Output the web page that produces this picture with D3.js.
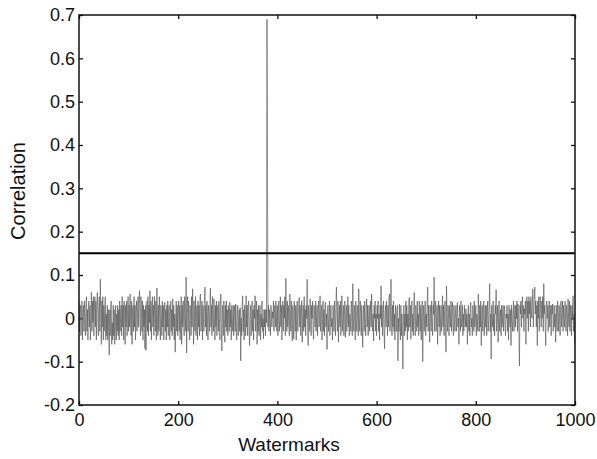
<!DOCTYPE html>
<html lang="en">
<head>
    <meta charset="UTF-8">
    <title>Correlation</title>
    <style>
        body { margin: 0; background: #fff; }
        text { font-family: "Liberation Sans", Arial, sans-serif; fill: #111; }
        .axis path { display: none; }
        .axis line { stroke: #111; stroke-width: 1.3; }
    </style>
</head>
<body>
<script src="https://d3js.org/d3.v7.min.js"></script>
<script>
    // detector response for each of the 1000 watermarks
    const correlation = [
        0.04, -0.03, 0.02, 0.03, -0.04, 0.01, 0.04, -0.05, 0.02, 0.03, -0.03, 0.04, 0.00, -0.04, 0.03, 0.05, -0.03, 0.02, -0.05, 0.03,
        0.04, -0.02, 0.03, -0.05, 0.01, 0.06, -0.03, 0.04, -0.01, 0.05, -0.04, 0.02, 0.05, -0.02, 0.04, -0.05, 0.03, 0.06, 0.01, -0.04,
        0.03, 0.05, -0.03, 0.09, 0.01, -0.06, 0.04, -0.02, 0.05, -0.05, 0.03, -0.03, 0.02, 0.05, -0.05, 0.01, -0.04, 0.03, -0.05, 0.02,
        -0.03, -0.085, 0.02, -0.04, 0.03, 0.04, -0.06, -0.01, -0.05, 0.03, -0.04, 0.02, -0.06, -0.02, 0.03, -0.05, 0.01, -0.03, 0.03, -0.04,
        0.02, -0.05, 0.04, -0.03, 0.01, 0.03, -0.04, 0.05, -0.02, 0.03, -0.05, 0.04, 0.00, -0.06, 0.03, -0.02, 0.04, -0.04, 0.02, 0.05,
        -0.03, 0.03, -0.02, 0.056, 0.00, -0.04, 0.04, -0.06, 0.02, 0.03, -0.03, 0.05, -0.02, 0.03, -0.05, 0.01, 0.04, -0.03, 0.01, 0.05,
        -0.02, 0.04, 0.064, -0.01, -0.04, 0.05, 0.01, -0.03, 0.04, -0.05, 0.03, -0.02, 0.02, -0.07, 0.03, -0.074, 0.01, 0.04, -0.03, 0.05,
        -0.04, 0.03, -0.01, 0.064, -0.03, 0.04, -0.05, 0.02, 0.05, -0.02, 0.03, -0.04, 0.05, 0.00, -0.03, 0.04, -0.05, 0.07, 0.01, -0.04,
        0.03, -0.03, 0.05, 0.00, -0.05, 0.03, 0.01, -0.04, 0.04, -0.02, 0.03, -0.05, 0.01, 0.037, -0.03, 0.02, -0.05, 0.03, -0.02, 0.04,
        -0.04, 0.02, 0.03, -0.05, 0.00, 0.04, -0.03, 0.02, -0.04, 0.045, -0.02, 0.03, -0.05, 0.01, -0.078, 0.00, 0.04, -0.03, 0.03, -0.04,
        0.02, 0.04, -0.03, 0.03, -0.05, 0.01, 0.05, -0.06, 0.03, -0.02, 0.04, 0.00, -0.04, 0.05, 0.01, -0.03, 0.095, -0.08, 0.03, 0.05,
        -0.03, 0.04, 0.00, -0.05, 0.03, 0.01, -0.04, 0.05, -0.02, 0.068, 0.02, -0.06, 0.04, -0.01, -0.03, 0.05, -0.04, 0.02, 0.03, -0.05,
        0.04, -0.02, 0.03, -0.04, 0.05, 0.056, -0.03, 0.01, 0.04, -0.05, 0.03, 0.00, -0.03, 0.05, 0.072, -0.02, 0.03, -0.04, 0.04, 0.00,
        -0.05, 0.03, 0.01, -0.03, 0.04, 0.07, -0.02, 0.03, -0.04, 0.05, 0.00, -0.03, 0.045, 0.01, -0.05, 0.03, -0.02, 0.04, -0.04, 0.02,
        0.03, -0.03, 0.04, 0.00, -0.05, 0.03, 0.056, -0.02, -0.075, 0.03, 0.01, -0.04, 0.04, 0.00, -0.055, 0.03, -0.02, 0.04, -0.03, 0.02,
        -0.04, 0.03, 0.00, -0.03, 0.037, -0.02, 0.02, -0.05, 0.03, 0.00, -0.03, 0.03, -0.04, 0.01, 0.03, -0.03, 0.033, -0.02, -0.05, 0.01,
        0.03, -0.04, 0.00, 0.02, -0.03, 0.025, -0.098, 0.00, -0.04, 0.03, 0.052, -0.03, 0.02, -0.05, 0.03, 0.00, -0.04, 0.052, -0.02, 0.03,
        -0.04, 0.02, 0.04, -0.03, -0.063, 0.01, 0.03, -0.04, 0.00, 0.04, -0.03, 0.02, -0.05, 0.03, 0.00, 0.052, -0.03, 0.01, 0.04, -0.06,
        0.02, -0.03, 0.03, -0.04, 0.00, 0.03, -0.05, 0.01, -0.02, 0.04, -0.03, 0.00, -0.047, 0.02, -0.02, 0.02, -0.04, 0.02, -0.01, 0.69,
        0.38, -0.02, 0.03, -0.03, 0.02, 0.00, -0.04, 0.03, 0.01, -0.02, 0.015, 0.00, 0.04, -0.03, 0.02, 0.03, -0.02, 0.04, 0.00, -0.03,
        0.03, -0.04, 0.02, 0.04, -0.03, 0.00, 0.05, -0.02, 0.03, -0.05, 0.01, 0.04, -0.03, 0.03, 0.00, 0.05, -0.04, 0.092, 0.01, -0.03,
        0.04, -0.02, 0.03, 0.00, -0.04, 0.056, 0.01, -0.03, 0.04, -0.02, -0.052, 0.03, 0.00, -0.048, 0.04, 0.01, -0.03, 0.03, -0.05, 0.02,
        0.04, -0.03, 0.00, 0.03, 0.048, -0.02, 0.03, -0.04, 0.01, 0.04, -0.055, 0.00, 0.03, -0.03, 0.05, -0.02, 0.02, -0.04, 0.03, 0.00,
        0.09, -0.02, -0.063, 0.03, 0.00, -0.03, 0.045, 0.01, -0.04, 0.03, 0.00, 0.04, -0.03, -0.048, 0.03, 0.01, -0.02, 0.04, -0.03, 0.00,
        0.03, -0.04, 0.02, 0.04, -0.02, 0.00, 0.052, -0.03, 0.01, 0.03, -0.05, 0.00, 0.04, -0.03, 0.02, -0.04, 0.03, 0.037, -0.02, 0.01,
        -0.072, 0.02, 0.03, -0.03, 0.00, 0.04, -0.04, 0.01, 0.03, -0.02, 0.00, -0.05, 0.03, 0.01, -0.03, 0.04, 0.00, -0.04, 0.03, 0.072,
        0.01, -0.03, 0.04, -0.055, 0.00, 0.03, -0.02, 0.04, -0.04, 0.01, 0.052, -0.03, 0.00, 0.03, -0.04, 0.01, 0.04, -0.044, 0.01, 0.03,
        -0.03, 0.00, 0.05, -0.02, 0.03, -0.04, 0.01, 0.00, -0.03, 0.04, 0.01, -0.04, 0.08, 0.00, -0.03, 0.03, 0.01, -0.05, 0.04, 0.00,
        -0.03, 0.03, 0.01, -0.04, 0.068, 0.00, -0.03, 0.04, 0.01, -0.04, 0.03, -0.02, -0.067, 0.01, 0.03, -0.03, 0.04, 0.00, -0.04, 0.02,
        0.045, -0.02, 0.03, -0.04, 0.00, 0.03, -0.03, 0.01, 0.04, -0.02, 0.056, 0.00, -0.03, 0.01, -0.052, 0.03, 0.00, 0.04, -0.03, 0.01,
        -0.04, 0.03, 0.00, 0.04, -0.03, 0.01, -0.05, 0.03, 0.00, 0.075, -0.02, 0.03, -0.04, 0.01, 0.04, -0.03, -0.07, 0.01, 0.03, -0.02,
        0.04, 0.00, -0.04, 0.03, -0.02, 0.05, 0.056, -0.03, 0.01, 0.09, 0.00, -0.04, 0.03, -0.02, 0.04, -0.03, 0.01, -0.05, 0.03, 0.00,
        -0.03, 0.02, 0.03, -0.098, 0.00, -0.03, 0.033, -0.02, -0.05, 0.03, -0.04, 0.01, -0.03, -0.117, 0.00, 0.03, -0.04, 0.01, -0.03, 0.04,
        -0.02, 0.03, -0.05, 0.01, -0.03, 0.04, 0.048, -0.02, 0.03, -0.048, 0.00, 0.04, -0.03, 0.01, -0.04, 0.03, 0.06, -0.02, -0.04, 0.03,
        0.00, -0.03, 0.04, -0.02, 0.01, -0.04, 0.04, 0.00, -0.03, 0.03, -0.05, 0.01, 0.04, -0.1, 0.00, 0.03, -0.03, 0.01, 0.04, -0.04,
        0.01, -0.02, 0.04, 0.072, -0.03, 0.03, 0.00, -0.055, 0.03, 0.01, -0.03, 0.04, 0.00, -0.04, 0.03, 0.01, 0.095, -0.03, 0.01, 0.04,
        -0.03, 0.00, 0.03, -0.06, 0.01, 0.04, -0.02, 0.03, -0.04, 0.00, 0.03, -0.03, 0.01, 0.052, -0.02, 0.03, -0.04, 0.01, 0.04, -0.03,
        -0.078, 0.075, 0.00, -0.03, 0.03, 0.01, -0.04, 0.03, 0.00, -0.02, 0.04, -0.03, 0.01, 0.037, -0.02, -0.04, 0.03, 0.00, -0.03, 0.01,
        0.03, -0.03, 0.01, 0.037, -0.02, 0.00, -0.06, 0.03, 0.01, -0.03, 0.04, -0.02, 0.00, 0.03, -0.04, 0.01, -0.03, 0.03, 0.00, -0.02,
        0.022, -0.02, 0.01, -0.06, 0.00, 0.03, -0.03, 0.01, -0.04, 0.03, 0.037, -0.02, 0.00, -0.04, 0.03, 0.01, -0.03, 0.04, -0.02, 0.00,
        0.03, -0.04, 0.01, 0.00, -0.03, 0.056, 0.01, -0.03, 0.03, -0.02, 0.04, -0.063, 0.00, 0.03, -0.03, 0.01, 0.04, -0.04, 0.00, 0.03,
        -0.02, 0.03, -0.04, 0.01, 0.04, -0.03, 0.00, 0.03, 0.08, -0.03, 0.01, -0.094, 0.03, 0.00, -0.02, 0.04, -0.03, 0.01, -0.04, 0.03,
        0.01, 0.066, -0.03, 0.00, 0.03, -0.055, 0.01, 0.04, -0.03, 0.00, 0.02, -0.04, 0.03, -0.02, 0.00, 0.03, -0.03, 0.01, 0.029, -0.02,
        -0.04, 0.01, 0.00, 0.03, -0.03, 0.01, -0.05, 0.03, 0.00, -0.02, 0.02, -0.063, 0.03, 0.00, -0.03, 0.01, 0.04, -0.03, 0.00, 0.03,
        -0.02, 0.03, 0.00, 0.04, -0.03, 0.033, 0.01, -0.03, -0.11, 0.03, 0.01, 0.04, -0.02, 0.03, 0.05, 0.00, 0.03, -0.03, 0.022, 0.01,
        0.04, -0.06, 0.03, 0.05, 0.00, 0.04, -0.03, 0.05, 0.01, 0.04, -0.02, 0.05, 0.02, 0.00, 0.04, 0.068, -0.02, 0.03, 0.05, 0.072,
        0.01, 0.04, -0.02, 0.03, -0.063, 0.04, 0.00, 0.05, -0.03, 0.03, 0.05, 0.01, -0.02, 0.04, 0.00, 0.05, -0.03, 0.08, 0.01, 0.03,
        -0.02, -0.063, 0.03, 0.04, 0.00, 0.03, -0.03, 0.01, 0.04, -0.02, 0.03, 0.00, -0.04, 0.03, 0.01, 0.033, -0.03, 0.00, 0.03, -0.02,
        0.01, -0.055, 0.03, 0.00, -0.03, 0.04, 0.01, -0.03, 0.03, 0.00, -0.04, 0.03, 0.04, -0.02, 0.01, 0.04, -0.03, 0.03, 0.00, -0.02,
        0.04, 0.00, -0.03, 0.03, 0.01, -0.04, 0.045, 0.00, -0.02, 0.04, -0.03, 0.03, 0.01, -0.04, 0.03, 0.00, 0.052, -0.03, 0.01, -0.06
    ];
    const threshold = [0.15];
    const xTicks = [0, 200, 400, 600, 800, 1000];
    const yTicks = [-0.2, -0.1, 0, 0.1, 0.2, 0.3, 0.4, 0.5, 0.6, 0.7];

    const width = 597;
    const height = 459;
    const margin = {top: 15, right: 22, bottom: 54, left: 79};
    const w = width - margin.left - margin.right;
    const h = height - margin.top - margin.bottom;

    const svg = d3.select('body').append('svg').attr('width', width).attr('height', height);
    const g = svg.append('g').attr('transform', `translate(${margin.left},${margin.top})`);

    const x = d3.scaleLinear().domain([0, 1000]).range([0, w]);
    const y = d3.scaleLinear().domain([-0.2, 0.7]).range([h, 0]);

    const fmt = d => d === 0 ? '0' : d.toFixed(1);

    // ticks point inwards on all four sides, like matlab
    g.append('g').attr('class', 'axis').attr('transform', `translate(0,${h})`)
        .call(d3.axisBottom(x).tickValues(xTicks).tickFormat(d => String(d)).tickSize(-4).tickPadding(8))
        .selectAll('text').style('font-size', '18px');
    g.append('g').attr('class', 'axis')
        .call(d3.axisLeft(y).tickValues(yTicks).tickFormat(fmt).tickSize(-4).tickPadding(4))
        .selectAll('text').style('font-size', '18px');
    g.append('g').attr('class', 'axis')
        .call(d3.axisTop(x).tickValues(xTicks).tickFormat('').tickSize(-4));
    g.append('g').attr('class', 'axis').attr('transform', `translate(${w},0)`)
        .call(d3.axisRight(y).tickValues(yTicks).tickFormat('').tickSize(-4));

    const line = d3.line().x((d, i) => x(i)).y(d => y(d));
    g.append('path').datum(correlation)
        .attr('d', line)
        .attr('fill', 'none')
        .attr('stroke', '#555')
        .attr('stroke-width', 0.65);

    g.selectAll('.thr').data(threshold).enter().append('line')
        .attr('class', 'thr')
        .attr('x1', x(0)).attr('x2', x(1000))
        .attr('y1', d => y(d)).attr('y2', d => y(d))
        .attr('stroke', '#000').attr('stroke-width', 2);

    g.append('rect').attr('width', w).attr('height', h)
        .attr('fill', 'none').attr('stroke', '#111').attr('stroke-width', 1.5);

    svg.append('text').attr('x', 289).attr('y', 451)
        .attr('text-anchor', 'middle').style('font-size', '19px').text('Watermarks');
    svg.append('text').attr('transform', 'translate(25,191) rotate(-90)')
        .attr('text-anchor', 'middle').style('font-size', '20px').text('Correlation');
</script>
</body>
</html>
